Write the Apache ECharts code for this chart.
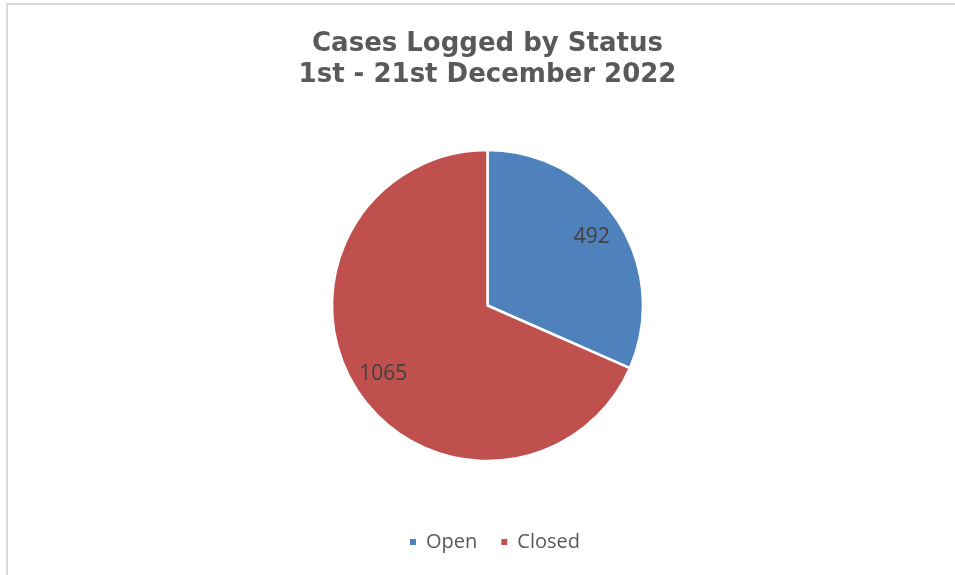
<!DOCTYPE html>
<html><head><meta charset="utf-8">
<script src="https://cdn.jsdelivr.net/npm/echarts@6/dist/echarts.min.js"></script>
<style>
html,body{margin:0;padding:0;background:#fff;overflow:hidden;}
#frame{position:absolute;left:6px;top:3px;width:960px;height:580px;border:2px solid #d9d9d9;box-sizing:border-box;}
#c{position:absolute;left:0;top:0;width:975px;height:575px;}
</style></head>
<body>
<div id="frame"></div>
<div id="c"></div>
<script>
const titleLines = ['Cases Logged by Status', '1st - 21st December 2022'];
const categories = ['Open', 'Closed'];
const values = [492, 1065];
const colors = ['#4F81BD', '#C0504D'];

const data = categories.map((n, i) => ({ name: n, value: values[i], itemStyle: { color: colors[i] } }));
const labelData = categories.map((n, i) => ({ name: n, value: values[i] }));

const chart = echarts.init(document.getElementById('c'));
chart.setOption({
  animation: false,
  title: {
    text: titleLines.join('\n'),
    left: 'center',
    top: 24,
    textStyle: { fontFamily: 'DejaVu Sans', fontWeight: 'bold', fontSize: 26, lineHeight: 31, color: '#595959' }
  },
  legend: {
    bottom: 18,
    left: 403,
    icon: 'rect',
    itemWidth: 8,
    itemHeight: 8,
    itemGap: 22,
    data: categories.map((n, i) => ({ name: n, itemStyle: { color: colors[i] } })),
    textStyle: { fontFamily: 'Open Sans', fontSize: 20, color: '#595959', padding: [0, 0, 0, 4] }
  },
  series: [
    {
      type: 'pie',
      center: [487.5, 305.5],
      radius: [0, 155.5],
      startAngle: 90,
      clockwise: true,
      label: { show: false },
      labelLine: { show: false },
      itemStyle: { borderColor: '#fff', borderWidth: 2.5 },
      data: data
    },
    {
      type: 'pie',
      silent: true,
      center: [487.5, 305.5],
      radius: [0, 243],
      startAngle: 90,
      clockwise: true,
      itemStyle: { color: 'rgba(0,0,0,0)' },
      label: { show: true, position: 'inside', formatter: '{c}', fontFamily: 'Open Sans', fontSize: 21, color: '#404040' },
      labelLine: { show: false },
      z: 5,
      data: labelData
    }
  ]
});
</script>
</body></html>
